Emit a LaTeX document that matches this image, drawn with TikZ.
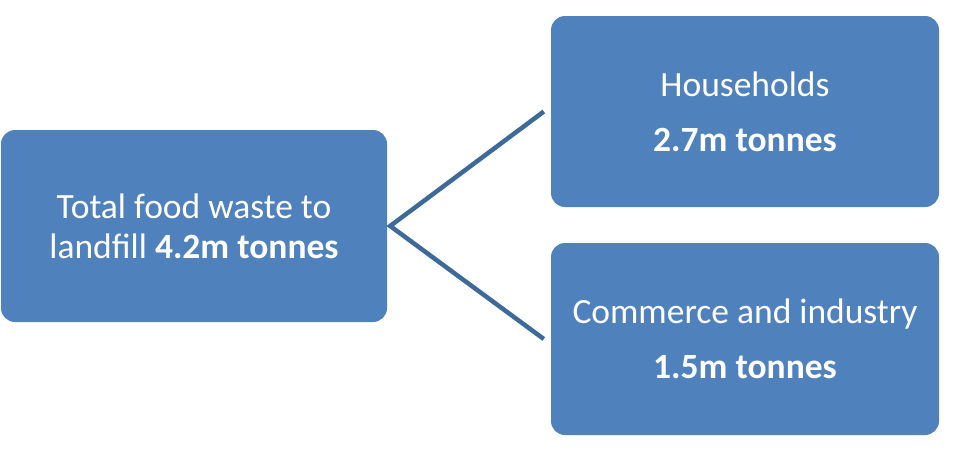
\documentclass[tikz,border=0pt]{standalone}
\usepackage{fontspec}
\setmainfont{Carlito}
\definecolor{boxblue}{HTML}{4F81BD}
\definecolor{lineblue}{HTML}{3E6A9A}
\begin{document}
\begin{tikzpicture}[x=1pt,y=-1pt,
  box/.style={fill=boxblue, rounded corners=14pt, text=white, align=center,
    font=\fontsize{35.5}{40}\selectfont, inner sep=0pt},
  conn/.style={draw=lineblue, line width=4.5pt, line join=miter}]
\useasboundingbox (0,0) rectangle (958,467);
\node[box, minimum width=386pt, minimum height=192pt] (total) at (194,226)
  {Total food waste to\\landfill \textbf{4.2m tonnes}};
\node[box, minimum width=388pt, minimum height=191pt] (house) at (745,111.5)
  {Households\\[15pt]\textbf{2.7m tonnes}};
\node[box, minimum width=388pt, minimum height=192pt] (comm) at (745,339)
  {Commerce and industry\\[15pt]\textbf{1.5m tonnes}};
\draw[conn] ([xshift=-7pt]house.west) -- ([xshift=3pt]total.east) -- ([xshift=-7pt]comm.west);
\end{tikzpicture}
\end{document}
